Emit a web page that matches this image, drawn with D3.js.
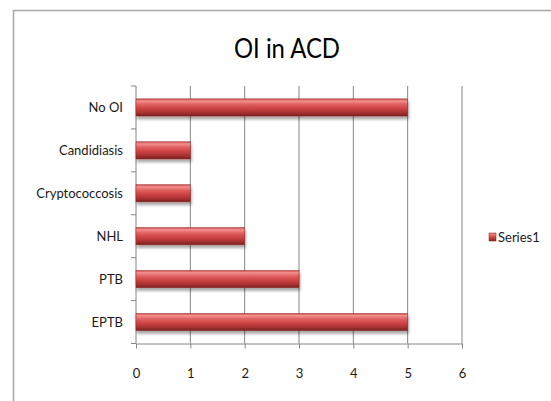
<!DOCTYPE html>
<html>
<head>
<meta charset="utf-8">
<script src="https://cdn.jsdelivr.net/npm/d3@7"></script>
<style>
  html, body { margin: 0; padding: 0; background: #fff; }
  svg { display: block; }
</style>
</head>
<body>
<svg id="chart" width="551" height="401"></svg>
<script>
// Opportunistic infections in ACD
const categories = ["EPTB", "PTB", "NHL", "Cryptococcosis", "Candidiasis", "No OI"];
const values = [5, 3, 2, 1, 1, 5];
const xTicks = [0, 1, 2, 3, 4, 5, 6];
const seriesName = "Series1";
const titleText = "OI in ACD";

const svg = d3.select("#chart");
const font = "Lato, 'Open Sans', sans-serif";

const margin = { left: 136, right: 462, top: 86, bottom: 343.5 };

// Chart frame
svg.append("rect")
  .attr("x", 13.5).attr("y", 10.5)
  .attr("width", 600).attr("height", 500)
  .attr("fill", "#fff")
  .attr("stroke", "#a6a6a6").attr("stroke-width", 1.5);

const defs = svg.append("defs");
const grad = defs.append("linearGradient")
  .attr("id", "barGrad").attr("x1", 0).attr("y1", 0).attr("x2", 0).attr("y2", 1);
[
  [0, "#c84444"], [0.12, "#f49090"], [0.3, "#e26464"], [0.55, "#cf4444"],
  [0.8, "#aa3232"], [1, "#762020"]
].forEach(([o, c]) => grad.append("stop").attr("offset", o).attr("stop-color", c));

const shadow = defs.append("filter").attr("id", "barShadow")
  .attr("x", "-5%").attr("y", "-30%").attr("width", "115%").attr("height", "180%");
shadow.append("feGaussianBlur").attr("in", "SourceAlpha").attr("stdDeviation", 1.6).attr("result", "b");
shadow.append("feOffset").attr("in", "b").attr("dx", 1).attr("dy", 3).attr("result", "o");
shadow.append("feComponentTransfer").attr("in", "o").attr("result", "s")
  .append("feFuncA").attr("type", "linear").attr("slope", 0.35);
const merge = shadow.append("feMerge");
merge.append("feMergeNode").attr("in", "s");
merge.append("feMergeNode").attr("in", "SourceGraphic");

const x = d3.scaleLinear().domain([0, 6]).range([margin.left, margin.right]);
const y = d3.scaleBand().domain(categories).range([margin.bottom, margin.top]).paddingInner(0.6).paddingOuter(0.3);
const yEdges = d3.scaleLinear().domain([0, categories.length]).range([margin.bottom, margin.top]);

// Title
svg.append("text")
  .attr("x", 287).attr("y", 58)
  .attr("text-anchor", "middle")
  .attr("font-family", font).attr("font-size", 27)
  .attr("textLength", 106).attr("lengthAdjust", "spacingAndGlyphs")
  .attr("fill", "#000")
  .text(titleText);

// Vertical gridlines
svg.append("g")
  .selectAll("line")
  .data(xTicks.filter(d => d > 0))
  .join("line")
  .attr("x1", d => x(d)).attr("x2", d => x(d))
  .attr("y1", margin.top).attr("y2", margin.bottom)
  .attr("stroke", "#868686").attr("stroke-width", 1);

// X axis
const xAxis = svg.append("g")
  .attr("transform", `translate(0,${margin.bottom})`)
  .call(d3.axisBottom(x).tickValues(xTicks).tickFormat(d3.format("d"))
    .tickSize(5).tickSizeOuter(0).tickPadding(20));
xAxis.select(".domain").attr("stroke", "#868686");
xAxis.selectAll(".tick line").attr("stroke", "#868686");
xAxis.selectAll("text").attr("font-family", font).attr("font-size", 13).attr("fill", "#1a1a1a");

// Y axis: category boundaries carry the ticks
const yAxisG = svg.append("g");
yAxisG.append("line")
  .attr("x1", margin.left).attr("x2", margin.left)
  .attr("y1", margin.top).attr("y2", margin.bottom)
  .attr("stroke", "#868686");
yAxisG.selectAll("line.tk")
  .data(d3.range(categories.length + 1))
  .join("line").attr("class", "tk")
  .attr("x1", margin.left - 5).attr("x2", margin.left)
  .attr("y1", d => yEdges(d)).attr("y2", d => yEdges(d))
  .attr("stroke", "#868686");
yAxisG.selectAll("text")
  .data(categories)
  .join("text")
  .attr("x", margin.left - 13)
  .attr("y", d => y(d) + y.bandwidth() / 2)
  .attr("dy", "0.35em")
  .attr("text-anchor", "end")
  .attr("font-family", font).attr("font-size", 13).attr("fill", "#1a1a1a")
  .text(d => d);

// Bars
svg.append("g")
  .selectAll("rect")
  .data(categories.map((c, i) => ({ c, v: values[i] })))
  .join("rect")
  .attr("x", x(0))
  .attr("y", d => y(d.c))
  .attr("width", d => x(d.v) - x(0))
  .attr("height", y.bandwidth())
  .attr("fill", "url(#barGrad)")
  .attr("stroke", "#9a2a2a").attr("stroke-width", 0.5)
  .attr("filter", "url(#barShadow)");

// Legend
const lg = svg.append("g").attr("transform", "translate(489,233)");
lg.append("rect").attr("width", 7).attr("height", 8)
  .attr("fill", "url(#barGrad)").attr("stroke", "#8a2424").attr("stroke-width", 0.5);
lg.append("text").attr("x", 9).attr("y", 4).attr("dy", "0.35em")
  .attr("font-family", font).attr("font-size", 13).attr("fill", "#1a1a1a")
  .text(seriesName);
</script>
</body>
</html>
